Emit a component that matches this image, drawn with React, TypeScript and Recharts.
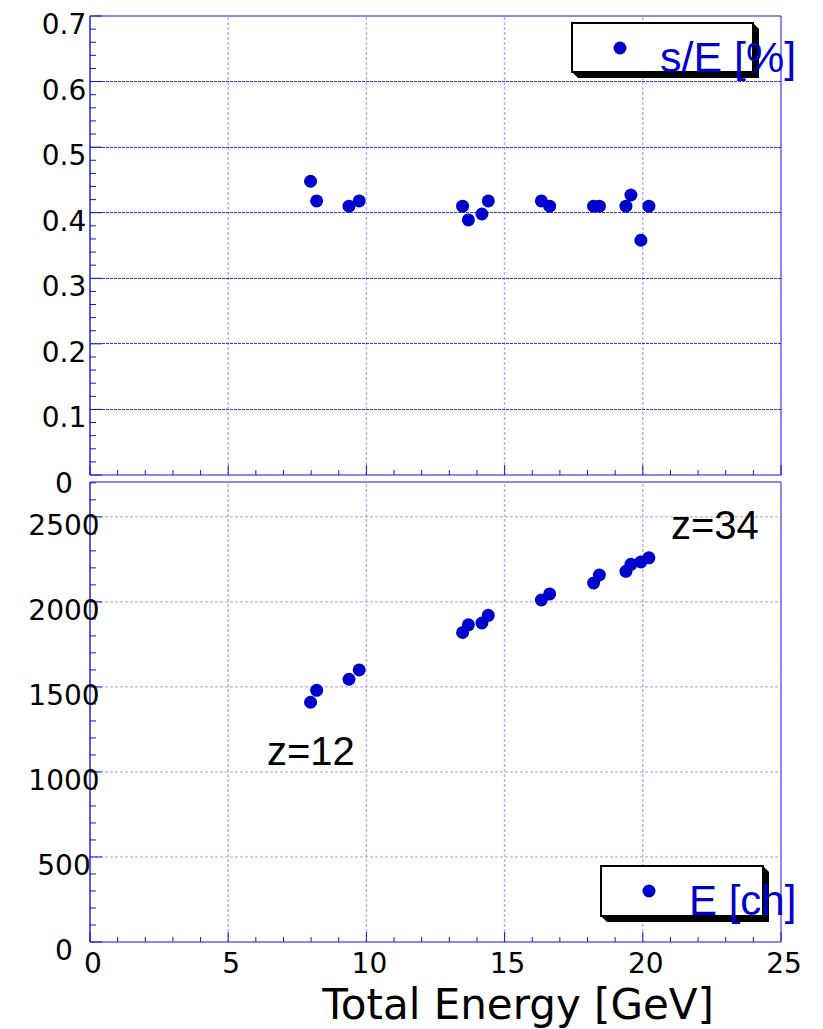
import React from "react";
import {
  ScatterChart,
  Scatter,
  XAxis,
  YAxis,
  ReferenceLine,
  ReferenceDot,
  Legend,
  Label,
} from "recharts";

// beam energy of each run [GeV]
const energy = [
  7.98, 8.2, 9.37, 9.74, 13.48, 13.69, 14.18, 14.41, 16.33, 16.63, 18.22,
  18.43, 19.39, 19.57, 19.93, 20.22,
];
// sigma / E [%]
const resolution = [
  0.448, 0.418, 0.41, 0.418, 0.41, 0.389, 0.398, 0.418, 0.418, 0.41, 0.41,
  0.41, 0.41, 0.427, 0.358, 0.41,
];
// peak position [ch]
const peak = [
  1410, 1480, 1545, 1600, 1820, 1865, 1876, 1921, 2011, 2047, 2111, 2158,
  2180, 2221, 2235, 2259,
];

const xMajor = [0, 5, 10, 15, 20, 25];
const resMajor = [0, 0.1, 0.2, 0.3, 0.4, 0.5, 0.6, 0.7];
const chMajor = [0, 500, 1000, 1500, 2000, 2500];

const xTicks = Array.from({ length: 26 }, (_, i) => i);
const resTicks = Array.from({ length: 36 }, (_, i) => Math.round(i * 2) / 100);
const chTicks = Array.from({ length: 28 }, (_, i) => i * 100);

const resData = energy.map((e, i) => ({ e, v: resolution[i] }));
const chData = energy.map((e, i) => ({ e, v: peak[i] }));

const AXIS = "#1414e0";
const DOT = "#0000cc";
const NUM_FONT = "DejaVu Sans, sans-serif";
const TEXT_FONT = "Liberation Sans, Arial, sans-serif";

const isMultiple = (v: number, step: number) =>
  Math.abs(v / step - Math.round(v / step)) < 1e-6;

// x ticks, drawn inward; dir = -1 points up, +1 points down
const XTick = ({ x, y, payload, dir, labels }: any) => {
  const major = isMultiple(payload.value, 5);
  return (
    <g>
      <line x1={x} y1={y} x2={x} y2={y + dir * (major ? 10 : 5)} stroke={AXIS} />
      {labels && major && (
        <text
          x={x + 3}
          y={y + 31}
          textAnchor="middle"
          fontSize={28}
          fontFamily={NUM_FONT}
          fill="#000"
        >
          {payload.value}
        </text>
      )}
    </g>
  );
};

// y ticks; dir = +1 points right, -1 points left
const YTick = ({ x, y, payload, dir, step, labels }: any) => {
  const major = isMultiple(payload.value, step);
  return (
    <g>
      <line x1={x} y1={y} x2={x + dir * (major ? 12 : 6)} y2={y} stroke={AXIS} />
      {labels && major && (
        <text
          x={x - 26}
          y={y + 18}
          textAnchor="middle"
          fontSize={28}
          fontFamily={NUM_FONT}
          fill="#000"
        >
          {payload.value}
        </text>
      )}
    </g>
  );
};

// ROOT-style legend box with a drop shadow
const LegendBox = ({ payload, w, h, fontSize }: any) => {
  const entry = payload && payload[0];
  return (
    <svg width={w + 40} height={h + 10} style={{ overflow: "visible", display: "block" }}>
      <polygon
        points={`${w},0 ${w + 6},6 ${w + 6},${h + 6} 6,${h + 6} 0,${h}`}
        fill="#000"
      />
      <rect x={0} y={0} width={w} height={h} fill="#fff" stroke="#000" strokeWidth={2} />
      <circle cx={48} cy={25} r={6.5} fill={entry ? entry.color : DOT} />
      <text x={88} y={49} fontSize={fontSize} fontFamily={TEXT_FONT} fill={DOT}>
        {entry ? entry.value : ""}
      </text>
    </svg>
  );
};

const dotShape = (p: any) => <circle cx={p.cx} cy={p.cy} r={6.5} fill={DOT} />;

const zLabel = (text: string) => (p: any) =>
  (
    <text x={p.cx} y={p.cy} fontSize={40} fontFamily={TEXT_FONT} fill="#000">
      {text}
    </text>
  );

// shared frame props: 1px axes so that CartesianAxis renders them
const xFrame = {
  type: "number" as const,
  domain: [0, 25],
  ticks: xTicks,
  interval: 0,
  height: 1,
  tickSize: 0,
  tickMargin: 0,
  tickLine: false,
  axisLine: { stroke: AXIS },
};

export default function App() {
  return (
    <div
      style={{
        position: "absolute",
        left: 0,
        top: 0,
        width: 823,
        height: 1029,
        background: "#fff",
        overflow: "hidden",
      }}
    >
      {/* upper pad: resolution */}
      <div style={{ position: "absolute", left: 0, top: 0 }}>
        <ScatterChart
          width={823}
          height={500}
          margin={{ top: 15, right: 41, bottom: 24, left: 89 }}
        >
          <XAxis
            dataKey="e"
            {...xFrame}
            tick={(p: any) => <XTick {...p} dir={-1} />}
          />
          <XAxis
            xAxisId="top"
            orientation="top"
            {...xFrame}
            tick={(p: any) => <XTick {...p} dir={1} />}
          />
          <YAxis
            dataKey="v"
            type="number"
            domain={[0, 0.7]}
            ticks={resTicks}
            interval={0}
            width={1}
            tickSize={0}
            tickMargin={0}
            tickLine={false}
            axisLine={{ stroke: "#5a5ae6", strokeWidth: 2 }}
            tick={(p: any) => <YTick {...p} dir={1} step={0.1} labels />}
          />
          <YAxis
            yAxisId="right"
            orientation="right"
            type="number"
            domain={[0, 0.7]}
            ticks={resTicks}
            interval={0}
            width={1}
            tickSize={0}
            tickMargin={0}
            tickLine={false}
            axisLine={{ stroke: AXIS }}
            tick={(p: any) => <YTick {...p} dir={-1} step={0.1} />}
          />
          {xMajor.slice(1, -1).map((v) => (
            <ReferenceLine
              key={`vx${v}`}
              x={v}
              stroke="#b4b4f2"
              strokeWidth={1.5}
              strokeDasharray="3 2"
            />
          ))}
          {resMajor.slice(1, -1).map((v) => (
            <ReferenceLine
              key={`hy${v}`}
              y={v}
              stroke="#3030f0"
              strokeDasharray="3 1"
              shapeRendering="crispEdges"
            />
          ))}
          <Scatter
            name="s/E [%]"
            data={resData}
            fill={DOT}
            shape={dotShape}
            isAnimationActive={false}
          />
          <Legend
            layout="horizontal"
            verticalAlign="middle"
            align="center"
            wrapperStyle={{ position: "absolute", left: 572, top: 23, width: 220, height: 60 }}
            content={(p: any) => <LegendBox {...p} w={181} h={49} fontSize={43} />}
          />
        </ScatterChart>
      </div>

      {/* lower pad: peak position */}
      <div style={{ position: "absolute", left: 0, top: 478 }}>
        <ScatterChart
          width={823}
          height={551}
          margin={{ top: 3, right: 41, bottom: 86, left: 89 }}
        >
          <XAxis
            dataKey="e"
            {...xFrame}
            tick={(p: any) => <XTick {...p} dir={-1} labels />}
          >
            <Label
              content={(p: any) => (
                <text
                  x={p.viewBox.x + p.viewBox.width - 67}
                  y={p.viewBox.y + 77}
                  textAnchor="end"
                  fontSize={42}
                  fontFamily={NUM_FONT}
                  fill="#000"
                >
                  Total Energy [GeV]
                </text>
              )}
            />
          </XAxis>
          <XAxis
            xAxisId="top"
            orientation="top"
            {...xFrame}
            tick={(p: any) => <XTick {...p} dir={1} />}
          />
          <YAxis
            dataKey="v"
            type="number"
            domain={[0, 2705]}
            ticks={chTicks}
            interval={0}
            width={1}
            tickSize={0}
            tickMargin={0}
            tickLine={false}
            axisLine={{ stroke: "#5a5ae6", strokeWidth: 2 }}
            tick={(p: any) => <YTick {...p} dir={1} step={500} labels />}
          />
          <YAxis
            yAxisId="right"
            orientation="right"
            type="number"
            domain={[0, 2705]}
            ticks={chTicks}
            interval={0}
            width={1}
            tickSize={0}
            tickMargin={0}
            tickLine={false}
            axisLine={{ stroke: AXIS }}
            tick={(p: any) => <YTick {...p} dir={-1} step={500} />}
          />
          {xMajor.slice(1, -1).map((v) => (
            <ReferenceLine
              key={`vx${v}`}
              x={v}
              stroke="#b4b4f2"
              strokeWidth={1.5}
              strokeDasharray="3 2"
            />
          ))}
          {chMajor.slice(1).map((v) => (
            <ReferenceLine
              key={`hy${v}`}
              y={v}
              stroke="#a0a0ee"
              strokeDasharray="3 2"
            />
          ))}
          <Scatter
            name="E [ch]"
            data={chData}
            fill={DOT}
            shape={dotShape}
            isAnimationActive={false}
          />
          <ReferenceDot x={6.4} y={1042} r={0} shape={zLabel("z=12")} />
          <ReferenceDot x={21.02} y={2372} r={0} shape={zLabel("z=34")} />
          <Legend
            layout="horizontal"
            verticalAlign="middle"
            align="center"
            wrapperStyle={{ position: "absolute", left: 601, top: 388, width: 200, height: 60 }}
            content={(p: any) => <LegendBox {...p} w={162} h={50} fontSize={42} />}
          />
        </ScatterChart>
      </div>
    </div>
  );
}
